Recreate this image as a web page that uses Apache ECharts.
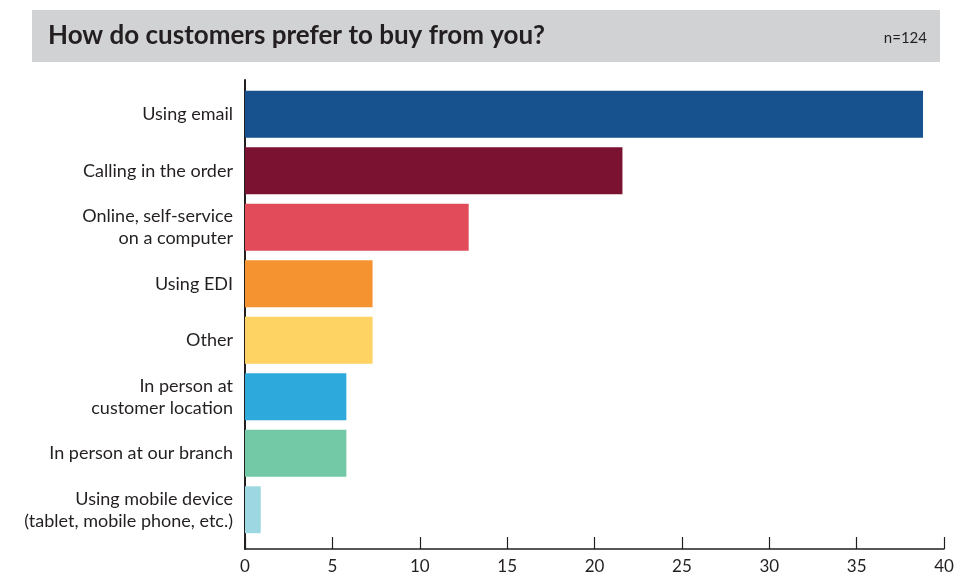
<!DOCTYPE html>
<html>
<head>
<meta charset="utf-8">
<script src="https://cdn.jsdelivr.net/npm/echarts@6/dist/echarts.min.js"></script>
<style>
  html, body { margin: 0; padding: 0; background: #ffffff; }
  #chart { width: 958px; height: 579px; }
</style>
</head>
<body>
<div id="chart"></div>
<script>
// Survey answers (share of respondents, %), top to bottom
const categories = [
  'Using email',
  'Calling in the order',
  'Online, self-service\non a computer',
  'Using EDI',
  'Other',
  'In person at\ncustomer location',
  'In person at our branch',
  'Using mobile device\n(tablet, mobile phone, etc.)'
];
const values = [38.8, 21.6, 12.8, 7.3, 7.3, 5.8, 5.8, 0.9];
const barColors = ['#17528f', '#7b1232', '#e14b5a', '#f69331', '#fed263', '#2ea9dc', '#73c9a5', '#9dd7e1'];
const xTicks = [0, 5, 10, 15, 20, 25, 30, 35, 40];
const titleText = 'How do customers prefer to buy from you?';
const sampleText = 'n=124';

const ink = '#231f20';
const chart = echarts.init(document.getElementById('chart'));

chart.setOption({
  animation: false,
  graphic: [{
    type: 'rect',
    left: 32, top: 10,
    shape: { width: 908, height: 52 },
    style: { fill: '#d1d2d4' },
    silent: true,
    z: -1
  }],
  title: [{
    text: titleText,
    left: 43, top: 18,
    textStyle: { fontFamily: 'Lato', fontWeight: 'bold', fontSize: 26, color: ink }
  }, {
    text: sampleText,
    right: 26, top: 26,
    textStyle: { fontFamily: 'Lato', fontWeight: 'normal', fontSize: 15, color: ink }
  }],
  grid: [
    { left: 245, right: 14, top: 86, bottom: 41 },
    { left: 245, right: 14, top: 80, bottom: 30 }
  ],
  xAxis: [{
    gridIndex: 0, type: 'value', min: 0, max: 40, show: false
  }, {
    gridIndex: 1, type: 'value', min: xTicks[0], max: xTicks[xTicks.length - 1], interval: 5,
    axisLine: { show: true, lineStyle: { color: ink, width: 1.5 } },
    axisTick: { show: true, inside: true, length: 12, lineStyle: { color: ink, width: 1.2 } },
    axisLabel: { fontFamily: 'Lato', fontSize: 17, color: ink, margin: 9 },
    splitLine: { show: false }
  }],
  yAxis: [{
    gridIndex: 0, type: 'category', data: categories, inverse: true,
    axisLine: { show: false },
    axisTick: { show: false },
    axisLabel: { fontFamily: 'Lato', fontSize: 18, color: ink, margin: 12, lineHeight: 22, align: 'right' }
  }, {
    gridIndex: 1, type: 'value', min: 0, max: 1,
    axisLine: { show: true, lineStyle: { color: ink, width: 2 } },
    axisTick: { show: false },
    axisLabel: { show: false },
    splitLine: { show: false }
  }],
  series: [{
    type: 'bar',
    xAxisIndex: 0, yAxisIndex: 0,
    data: values.map((v, i) => ({ value: v, itemStyle: { color: barColors[i] } })),
    barCategoryGap: '17%'
  }]
});
</script>
</body>
</html>
